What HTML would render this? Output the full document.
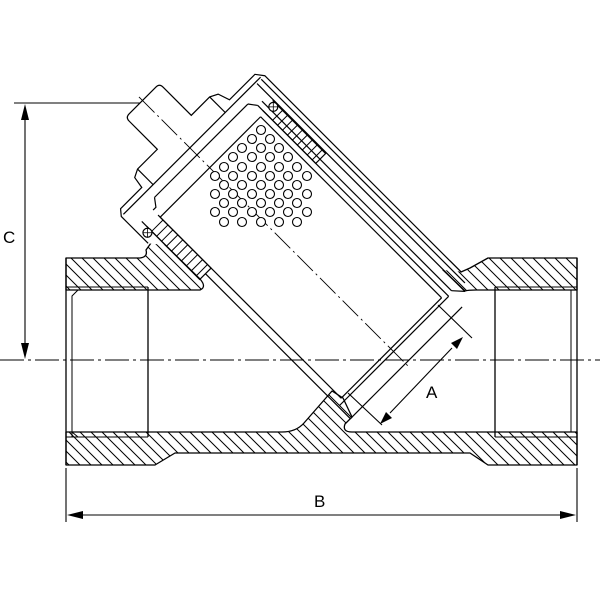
<!DOCTYPE html>
<html><head><meta charset="utf-8"><style>
html,body{margin:0;padding:0;background:#fff;}
svg{display:block;}
text{font-family:"Liberation Sans",sans-serif;font-size:17px;fill:#000;}
</style></head><body>
<svg width="600" height="600" viewBox="0 0 600 600" xmlns="http://www.w3.org/2000/svg">
<defs>
<pattern id="h" patternUnits="userSpaceOnUse" width="11" height="11">
<path d="M-3,-3 L14,14 M-3,8 L3,14 M8,-3 L14,3" stroke="#000" stroke-width="1"/>
</pattern>
</defs>
<g fill="none" stroke="#000" stroke-width="1.3" stroke-linejoin="round">
<path d="M66,258 L140,258 Q148,257 146,250 L156,236 L200,279 Q207,287 200,290 L66,290 Z" fill="url(#h)"/>
<path d="M577,258 L488,258 L470,268 L461,272 L450,261 L442,269 L465,291 Q468,290 476,290 L577,290 Z" fill="url(#h)"/>
<path d="M66,432 L282,432 Q296,432 304,423 L332,391 L343,398 L352,417 L345,424 Q342,432 352,432 L577,432 L577,465 L488,465 L470,453 L175,453 L155,465 L66,465 Z" fill="url(#h)"/>
<line x1="66" y1="258" x2="66" y2="465"/>
<line x1="577" y1="258" x2="577" y2="465"/>
<path d="M72,437 L72,296 L78,290" stroke-width="1"/>
<path d="M72,432 L78,437" stroke-width="1"/>
<line x1="66" y1="287" x2="148" y2="287" stroke-width="1"/>
<line x1="66" y1="437" x2="148" y2="437" stroke-width="1"/>
<line x1="148" y1="287" x2="148" y2="437"/>
<line x1="495" y1="287" x2="495" y2="437"/>
<line x1="495" y1="287" x2="577" y2="287" stroke-width="1"/>
<line x1="495" y1="437" x2="577" y2="437" stroke-width="1"/>
<path d="M571,290 L571,432" stroke-width="1"/>
</g>

<g transform="translate(402,360) rotate(45)" fill="none" stroke="#000" stroke-width="1.2">
<path d="M-21,-104 L-298,-104 L-306,-98 L-306,-62 L-318,-58 L-322,-50 L-322,-24 L-362,-24 Q-367,-24 -367,-19 L-367,19 Q-367,24 -362,24 L-322,24 L-322,52 L-318,60 L-306,62 L-306,92 L-300,97 L-262,97" fill="#fff"/>
<line x1="-300" y1="-100" x2="-300" y2="94"/>
<line x1="-322" y1="-50" x2="-300" y2="-50"/>
<line x1="-322" y1="52" x2="-300" y2="52"/>
<line x1="-290" y1="-72" x2="-290" y2="60"/>
<path d="M-290,60 L-282,66 L-282,70"/>
<path d="M-290,-72 L-282,-78"/>
<line x1="-298" y1="-99" x2="-10" y2="-99"/>
<line x1="-298" y1="-93" x2="-4" y2="-93"/>
<line x1="-282" y1="-84" x2="-14" y2="-84"/>
<line x1="-282" y1="-78" x2="-12" y2="-78"/>
<line x1="-272" y1="-72" x2="-16" y2="-72"/>
<line x1="-272" y1="70" x2="-16" y2="70"/>
<line x1="-200" y1="78" x2="5" y2="78"/>
<line x1="-282" y1="86" x2="-200" y2="86"/>
<line x1="-272" y1="-72" x2="-272" y2="70"/>
<line x1="-16" y1="-72" x2="-16" y2="70"/>
<line x1="-12" y1="-78" x2="-12" y2="76"/>
<line x1="5" y1="-80" x2="5" y2="78"/>
<line x1="-14" y1="-84" x2="-4" y2="-93"/>
<path d="M-275,70 L-200,70 L-200,86 L-275,86"/>
<path d="M-268,70v16M-261,70v16M-254,70v16M-247,70v16M-240,70v16M-233,70v16M-226,70v16M-219,70v16M-212,70v16M-205,70v16" stroke-width="1"/>
<path d="M-275,-78 L-200,-78 L-200,-92 L-275,-92"/>
<path d="M-261,-92v14M-254,-92v14M-247,-92v14M-240,-92v14M-233,-92v14M-226,-92v14M-219,-92v14M-212,-92v14M-205,-92v14" stroke-width="1"/>
<circle cx="-270" cy="90" r="4.5" fill="#fff"/>
<path d="M-273,87 L-267,93 M-267,87 L-273,93" stroke-width="0.8"/>
<circle cx="-270" cy="-88" r="4.5" fill="#fff"/>
<path d="M-273,-91 L-267,-85 M-267,-91 L-273,-85" stroke-width="0.8"/>
<line x1="-372" y1="0" x2="8" y2="0" stroke-width="0.9" stroke-dasharray="22,4,2,4"/>
</g>

<g fill="#fff" stroke="#000" stroke-width="1.1">
<circle cx="261" cy="130" r="4.5"/>
<circle cx="252" cy="139" r="4.5"/><circle cx="270" cy="139" r="4.5"/>
<circle cx="242" cy="148" r="4.5"/><circle cx="261" cy="148" r="4.5"/><circle cx="279" cy="148" r="4.5"/>
<circle cx="233" cy="157" r="4.5"/><circle cx="252" cy="157" r="4.5"/><circle cx="270" cy="157" r="4.5"/><circle cx="288" cy="157" r="4.5"/>
<circle cx="224" cy="167" r="4.5"/><circle cx="242" cy="167" r="4.5"/><circle cx="261" cy="167" r="4.5"/><circle cx="279" cy="167" r="4.5"/><circle cx="297" cy="167" r="4.5"/>
<circle cx="215" cy="176" r="4.5"/><circle cx="233" cy="176" r="4.5"/><circle cx="252" cy="176" r="4.5"/><circle cx="270" cy="176" r="4.5"/><circle cx="288" cy="176" r="4.5"/><circle cx="307" cy="176" r="4.5"/>
<circle cx="224" cy="185" r="4.5"/><circle cx="242" cy="185" r="4.5"/><circle cx="261" cy="185" r="4.5"/><circle cx="279" cy="185" r="4.5"/><circle cx="297" cy="185" r="4.5"/>
<circle cx="215" cy="194" r="4.5"/><circle cx="233" cy="194" r="4.5"/><circle cx="252" cy="194" r="4.5"/><circle cx="270" cy="194" r="4.5"/><circle cx="288" cy="194" r="4.5"/><circle cx="307" cy="194" r="4.5"/>
<circle cx="224" cy="203" r="4.5"/><circle cx="242" cy="203" r="4.5"/><circle cx="261" cy="203" r="4.5"/><circle cx="279" cy="203" r="4.5"/><circle cx="297" cy="203" r="4.5"/>
<circle cx="215" cy="212" r="4.5"/><circle cx="233" cy="212" r="4.5"/><circle cx="252" cy="212" r="4.5"/><circle cx="270" cy="212" r="4.5"/><circle cx="288" cy="212" r="4.5"/><circle cx="307" cy="212" r="4.5"/>
<circle cx="224" cy="222" r="4.5"/><circle cx="242" cy="222" r="4.5"/><circle cx="261" cy="222" r="4.5"/><circle cx="279" cy="222" r="4.5"/><circle cx="297" cy="222" r="4.5"/>
</g>

<line x1="0" y1="360" x2="600" y2="360" stroke="#000" stroke-width="1" stroke-dasharray="24,4,3,4"/>

<g stroke="#000" stroke-width="1.1" fill="none">
<line x1="14" y1="103" x2="140" y2="103"/>
<line x1="25" y1="118" x2="25" y2="348"/>
<line x1="66" y1="468" x2="66" y2="522"/>
<line x1="577" y1="468" x2="577" y2="522"/>
<line x1="80" y1="515" x2="563" y2="515"/>
<line x1="438" y1="305" x2="472" y2="338"/>
<line x1="348" y1="393" x2="382" y2="425"/>
<line x1="452" y1="348" x2="390" y2="413"/>
</g>
<g fill="#000">
<polygon points="25,104 21,120 29,120"/>
<polygon points="25,359 21,343 29,343"/>
<polygon points="67,515 83,511 83,519"/>
<polygon points="576,515 560,511 560,519"/>
<polygon points="463,337 451,343 457,349"/>
<polygon points="380,424 386,412 392,418"/>
</g>
<text x="3" y="243">C</text>
<text x="314" y="507">B</text>
<text x="426" y="398">A</text>
</svg>
</body></html>
